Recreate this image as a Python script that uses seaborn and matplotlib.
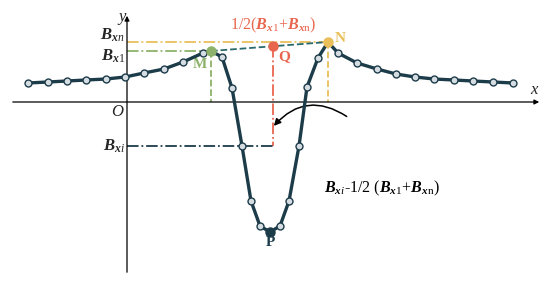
import matplotlib
matplotlib.use("Agg")
import matplotlib.pyplot as plt
import numpy as np
import pandas as pd
import seaborn as sns

sns.set_theme(style="white")
plt.rcParams["font.family"] = ["Liberation Serif", "DejaVu Serif"]
plt.rcParams["mathtext.fontset"] = "custom"
plt.rcParams["mathtext.rm"] = "Liberation Serif"
plt.rcParams["mathtext.it"] = "Liberation Serif:italic"
plt.rcParams["mathtext.bf"] = "Liberation Serif:italic:bold"

# Кривая аномалии (условные единицы, начало координат в точке O)
curve_x = [-9.9, -7.9, -6.0, -4.1, -2.1, -0.2, 1.7, 3.7, 5.6, 7.6, 8.4, 9.5, 10.5,
           11.5, 12.4, 13.3, 14.3, 15.3, 16.2, 17.2, 18.0, 19.1, 20.1, 21.1,
           23.0, 25.0, 26.9, 28.8, 30.7, 32.7, 34.6, 36.6, 38.6]
curve_y = [1.9, 2.0, 2.1, 2.2, 2.3, 2.5, 2.9, 3.3, 4.0, 4.9, 5.1, 4.5, 1.4,
           -4.4, -9.9, -12.4, -13.0, -12.4, -9.9, -4.4, 1.5, 4.4, 6.0, 4.9,
           3.9, 3.3, 2.8, 2.5, 2.3, 2.2, 2.1, 2.0, 1.9]

# Характерные точки
pt_names = ["M", "Q", "N", "P"]
pt_x = [8.4, 14.6, 20.1, 14.3]
pt_y = [5.1, 5.6, 6.0, -13.0]
pt_colors = ["#8db36a", "#e8664e", "#e9bf5a", "#1d3c4a"]

bxi_level = -4.4

LINE = "#1d3c4a"
df = pd.DataFrame({"x": curve_x, "y": curve_y})

fig = plt.figure(figsize=(5.5, 2.82), dpi=100)
ax = fig.add_axes([0, 0, 1, 1])
ax.set_xlim(-12.7, 42.3)
ax.set_ylim(-18.0, 10.2)
ax.axis("off")

# оси со стрелками
ax.annotate("", xy=(41.5, 0), xytext=(-11.7, 0),
            arrowprops=dict(arrowstyle="-|>", color="black", lw=0.9,
                            mutation_scale=7))
ax.annotate("", xy=(0, 8.9), xytext=(0, -17.3),
            arrowprops=dict(arrowstyle="-|>", color="black", lw=0.9,
                            mutation_scale=7))

mx, qx, nx = pt_x[0], pt_x[1], pt_x[2]
my, qy, ny = pt_y[0], pt_y[1], pt_y[2]

# вспомогательные линии
ax.plot([0, nx], [ny, ny], color="#e9bf5a", lw=1.3, ls="-.")
ax.plot([nx, nx], [ny, 0], color="#e9bf5a", lw=1.3, ls="--")
ax.plot([0, mx], [my, my], color="#8db36a", lw=1.3, ls="-.")
ax.plot([mx, mx], [my, 0], color="#8db36a", lw=1.3, ls="--")
ax.plot([mx, nx], [my, ny], color="#2a6a6c", lw=1.3, ls="--")
ax.plot([qx, qx], [qy, bxi_level], color="#e8664e", lw=1.3, ls="-.")
ax.plot([0, qx], [bxi_level, bxi_level], color=LINE, lw=1.3, ls="-.")

# основная кривая
sns.lineplot(data=df, x="x", y="y", ax=ax, color=LINE, lw=2.4, sort=False,
             marker="o", markersize=5, markerfacecolor="#d5dde2",
             markeredgecolor=LINE, markeredgewidth=1.0, zorder=5)

for name, x, y, c in zip(pt_names, pt_x, pt_y, pt_colors):
    ax.plot(x, y, "o", color=c, markersize=6.5, zorder=6)

# подписи
lab = dict(fontsize=11, fontweight="bold")
ax.text(mx - 1.1, my - 1.4, "M", color=pt_colors[0], ha="center", va="center", **lab)
ax.text(qx + 1.1, qy - 1.1, "Q", color=pt_colors[1], ha="center", va="center", **lab)
ax.text(nx + 1.2, ny + 0.4, "N", color=pt_colors[2], ha="center", va="center", **lab)
ax.text(pt_x[3], pt_y[3] - 1.0, "P", color=LINE, ha="center", va="center", **lab)

ax.text(-0.5, 8.3, "$y$", fontsize=12, ha="center", va="center")
ax.text(40.8, 1.2, "$x$", fontsize=12, ha="center", va="center")
ax.text(-0.9, -1.0, "$O$", fontsize=12, ha="center", va="center")
ax.text(-0.2, ny + 0.7, r"$\mathbf{B}_{\mathbf{x}n}$", fontsize=12, ha="right", va="center")
ax.text(-0.2, my - 0.5, r"$\mathbf{B}_{\mathbf{x}1}$", fontsize=12, ha="right", va="center")
ax.text(-0.2, bxi_level, r"$\mathbf{B}_{\mathbf{x}i}$", fontsize=12, ha="right", va="center")
ax.text(qx, 7.7, r"1/2($\mathbf{B}_{\mathbf{x}1}$+$\mathbf{B}_{\mathbf{x}\mathrm{n}}$)",
        color="#e8664e", fontsize=11.5, ha="center", va="center")
ax.text(19.7, -8.6, r"$\mathbf{B}_{\mathbf{x}i}$-1/2 ($\mathbf{B}_{\mathbf{x}1}$+$\mathbf{B}_{\mathbf{x}\mathrm{n}}$)",
        color="black", fontsize=11.5, ha="left", va="center")

ax.annotate("", xy=(14.5, -2.6), xytext=(22.2, -1.6),
            arrowprops=dict(arrowstyle="-|>", color="black", lw=1.1,
                            mutation_scale=10,
                            connectionstyle="arc3,rad=0.45"))

plt.savefig("out.png", dpi=100)
plt.close()
